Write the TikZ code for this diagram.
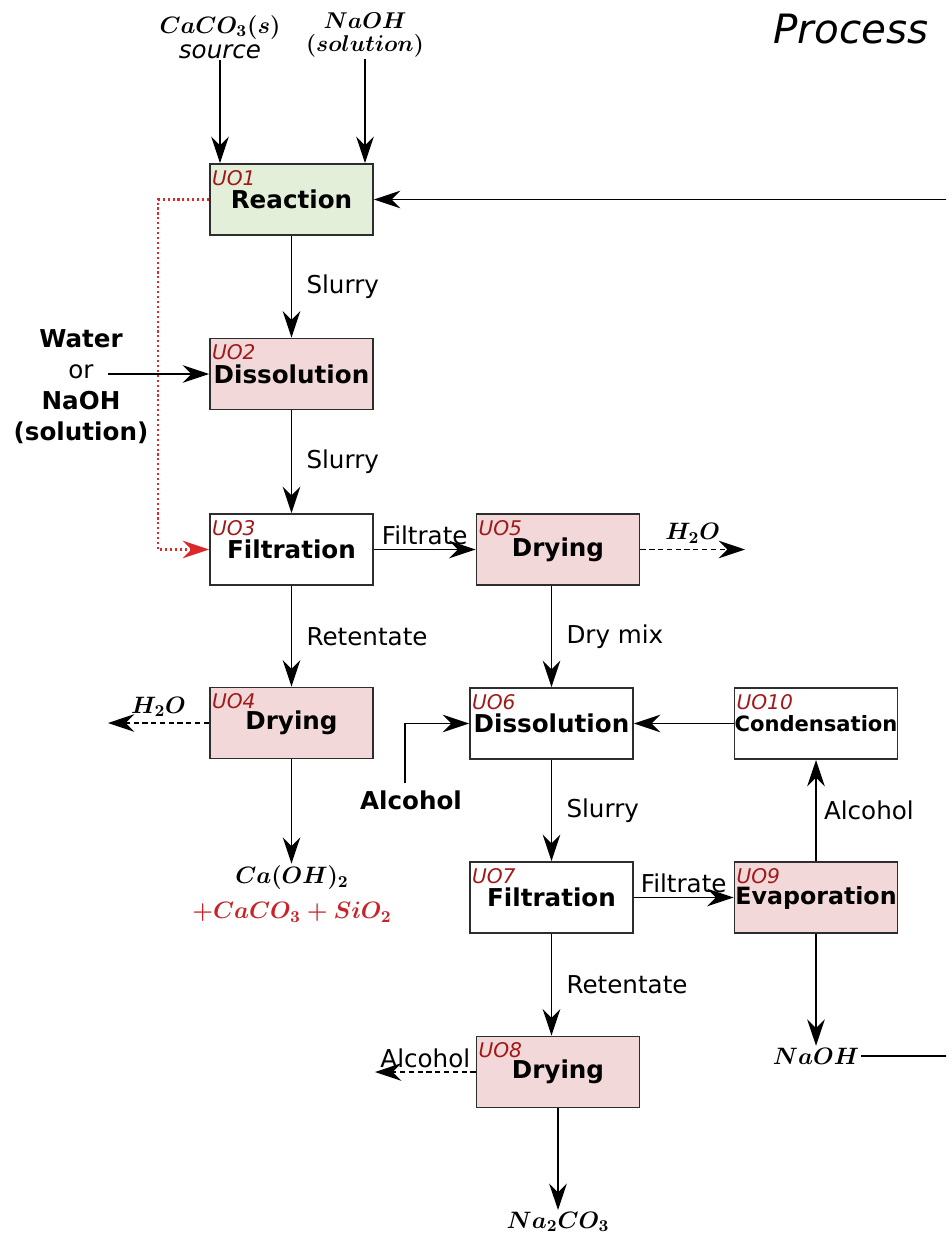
\RequirePackage{fix-cm}
\documentclass[tikz,border=0pt]{standalone}
\usepackage{fontspec}
\setmainfont{DejaVu Sans}
\usepackage{amsmath,amssymb}
\usepackage{tikz}
\usetikzlibrary{arrows.meta,positioning,calc}
\definecolor{uoRed}{RGB}{160,24,24}
\definecolor{outRed}{RGB}{200,36,40}
\definecolor{dotRed}{RGB}{220,40,40}
\definecolor{uoPink}{RGB}{242,216,217}
\definecolor{uoGreen}{RGB}{227,239,217}
\definecolor{uoEdge}{RGB}{45,45,45}
\newcommand{\bmchem}[1]{{\boldmath$#1$}}

\begin{document}
\begin{tikzpicture}[x=0.02cm, y=-0.02cm,
    uobox/.style={draw=uoEdge, line width=1.1pt, minimum width=3.26cm,
      minimum height=1.42cm, inner sep=0pt, font=\fontsize{14}{16}\selectfont\bfseries},
    uosmall/.style={font=\fontsize{12}{14}\selectfont\bfseries},
    uomid/.style={font=\fontsize{13.5}{15}\selectfont\bfseries},
    uotag/.style={anchor=north west, inner xsep=1.5pt, inner ysep=4pt,
      text=uoRed, font=\fontsize{11.5}{13}\selectfont\itshape},
    flowlbl/.style={inner sep=2pt, font=\fontsize{14}{16}\selectfont},
    chemtxt/.style={inner sep=1pt, align=center, font=\fontsize{13.5}{15}\selectfont},
    flow/.style={->, line width=1.1pt},
    vapour/.style={->, line width=1.1pt, dash pattern=on 3pt off 2pt},
    recycle/.style={->, dotRed, line width=1.3pt, dash pattern=on 1.2pt off 1.6pt},
    >={Stealth[length=15pt, width=10pt, inset=5pt]}
  ]
  \useasboundingbox (0,0) rectangle (946,1233);
  \clip (0,0) rectangle (946,1233);

  \node[font=\fontsize{23}{26}\selectfont\itshape] (title) at (851,29) {Process};

  % unit operations
  \node[uobox, fill=uoGreen] (uo1) at (291.5,199.5) {Reaction};
  \node[uobox, fill=uoPink] (uo2) at (291.5,374) {Dissolution};
  \node[uobox] (uo3) at (291.5,549.5) {Filtration};
  \node[uobox, fill=uoPink] (uo4) at (291.5,723) {Drying};
  \node[uobox, fill=uoPink] (uo5) at (558,549.5) {Drying};
  \node[uobox] (uo6) at (551.5,723.5) {Dissolution};
  \node[uobox] (uo7) at (551.5,897.5) {Filtration};
  \node[uobox, fill=uoPink] (uo8) at (558,1072) {Drying};
  \node[uobox, uomid, fill=uoPink] (uo9) at (816,897.5) {Evaporation};
  \node[uobox, uosmall] (uo10) at (816,723.5) {Condensation};
  \foreach \n/\t in {uo1/UO1, uo2/UO2, uo3/UO3, uo4/UO4, uo5/UO5,
                     uo6/UO6, uo7/UO7, uo8/UO8, uo9/UO9, uo10/UO10}
    \node[uotag] (\n-tag) at (\n.north west) {\t};

  % feeds and products
  \node[chemtxt, font=\fontsize{13.5}{14}\selectfont] (caco) at (220,37)
    {\bmchem{CaCO_3(s)}\\\fontsize{14}{14}\selectfont\textit{source}};
  \node[chemtxt, font=\fontsize{13}{13}\selectfont] (naohin) at (365,35)
    {\bmchem{NaOH}\\\bmchem{(solution)}};
  \node[flowlbl, align=center, font=\fontsize{14}{17.6}\selectfont] (water) at (81,387)
    {\textbf{Water}\\or\\\textbf{NaOH}\\\textbf{(solution)}};
  \coordinate (wsrc) at (108,374);
  \node[chemtxt] (caprod) at (292,894)
    {\bmchem{Ca(OH)_2}\\[5pt]\textcolor{outRed}{\bmchem{+CaCO_3+SiO_2}}};
  \node[flowlbl, font=\fontsize{14}{16}\selectfont\bfseries] (alcfeed) at (411,800) {Alcohol};
  \coordinate (alcup) at (405,783);
  \node[chemtxt] (naohout) at (816,1056) {\bmchem{NaOH}};
  \node[chemtxt] (soda) at (558,1222) {\bmchem{Na_2CO_3}};
  \coordinate (h2oA) at (745,549.5);
  \coordinate (h2oB) at (108,723);
  \coordinate (alcout) at (375,1072);
  \coordinate (redbend) at (158,199.5);
  \coordinate (loopR) at (990,600);

  % connectors
  \draw[flow] (caco.south) -- (caco.south |- uo1.north);
  \draw[flow] (naohin.south) -- (naohin.south |- uo1.north);
  \draw[flow] (uo1) -- node[flowlbl, right=6pt] {Slurry} (uo2);
  \draw[flow] (wsrc) -- (uo2.west);
  \draw[flow] (uo2) -- node[flowlbl, right=6pt] {Slurry} (uo3);
  \draw[recycle] (uo1.west) -- (redbend) |- (uo3.west);
  \draw[flow] (uo3) -- node[flowlbl, above] {Filtrate} (uo5);
  \draw[vapour] (uo5.east) -- node[chemtxt, above=2pt] {\bmchem{H_2O}} (h2oA);
  \draw[flow] (uo3) -- node[flowlbl, right=6pt] {Retentate} (uo4);
  \draw[vapour] (uo4.west) -- node[chemtxt, above=2pt] {\bmchem{H_2O}} (h2oB);
  \draw[flow] (uo4.south) -- (uo4.south |- caprod.north);
  \draw[flow] (uo5.south -| uo6) -- node[flowlbl, right=6pt] {Dry mix} (uo6.north);
  \draw[flow] (alcup) |- (uo6.west);
  \draw[flow] (uo10) -- (uo6);
  \draw[flow] (uo6) -- node[flowlbl, right=6pt] {Slurry} (uo7);
  \draw[flow] (uo7) -- node[flowlbl, above] {Filtrate} (uo9);
  \draw[flow] (uo9) -- node[flowlbl, right=2pt] {Alcohol} (uo10);
  \draw[flow] (uo9) -- (naohout);
  \draw[flow] (naohout.east) -| (loopR) |- (uo1.east);
  \draw[flow] (uo7.south) -- node[flowlbl, right=6pt] {Retentate} (uo7.south |- uo8.north);
  \draw[vapour] (uo8.west) -- node[flowlbl, above] {Alcohol} (alcout);
  \draw[flow] (uo8.south) -- (uo8.south |- soda.north);
\end{tikzpicture}
\end{document}
